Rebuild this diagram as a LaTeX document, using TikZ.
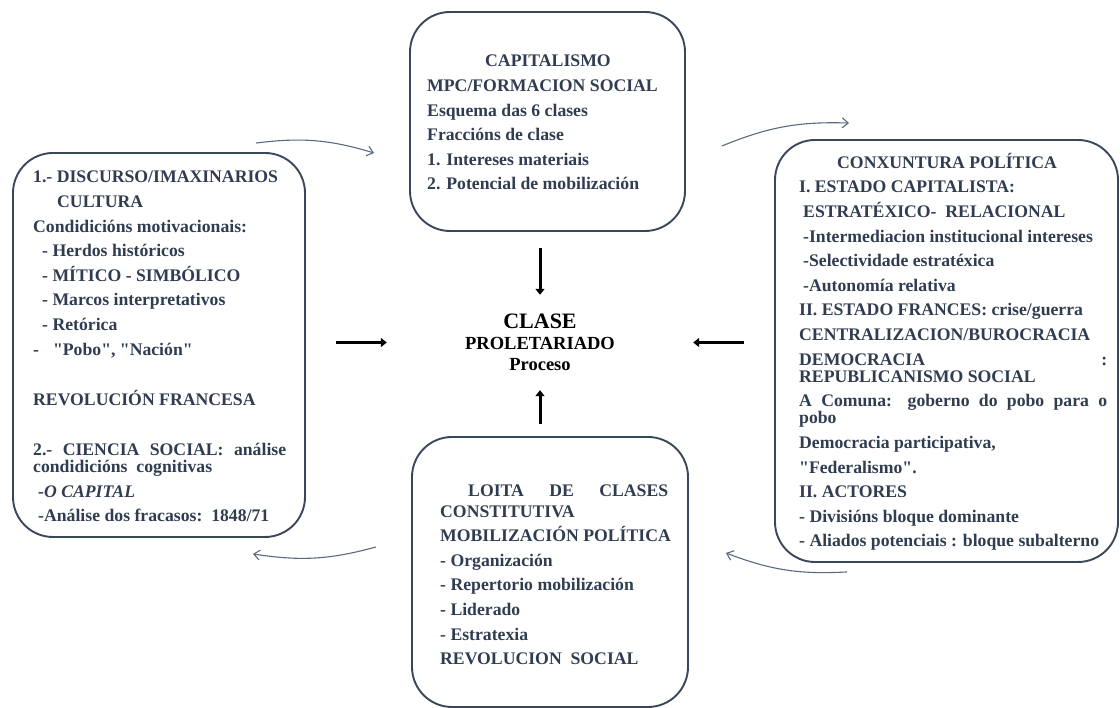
\documentclass[tikz,border=0pt]{standalone}
\usepackage{fontspec}
\setmainfont{Liberation Serif}[Ligatures=TeXOff]
\usetikzlibrary{arrows.meta,calc}
\definecolor{texto}{RGB}{48,60,80}
\definecolor{borde}{RGB}{58,70,90}
\definecolor{fio}{RGB}{92,105,124}

\begin{document}
\begin{tikzpicture}[x=1pt, y=1pt,
  caixa/.style={draw=borde, line width=1.9pt, rounded corners=40pt},
  letras/.style={anchor=north west, inner sep=0pt, align=left, text=texto,
    font=\fontsize{17.7}{24.6}\selectfont\bfseries},
  grosa/.style={line width=3pt, -{Triangle[length=6pt,width=9pt]}},
  volta/.style={draw=fio, line width=1.1pt, -{Straight Barb[length=6pt,width=10pt]}, bend left=12}]

\useasboundingbox (0,0) rectangle (1120,708);

% caixas
\node[caixa, minimum width=275pt, minimum height=219pt] (cap) at (547.5,586.5) {};
\node[caixa, minimum width=292pt, minimum height=384pt] (disc) at (159,363) {};
\node[caixa, minimum width=343pt, minimum height=422pt] (conx) at (946.5,357) {};
\node[caixa, minimum width=276pt, minimum height=270pt] (loita) at (550,136) {};

% textos
\node[letras] (captxt) at (427,653) {\hspace*{58pt}CAPITALISMO\\
MPC/FORMACION SOCIAL\\
Esquema das 6 clases\\
Fraccións de clase\\
1. Intereses materiais\\
2. Potencial de mobilización};

\node[letras] (disctxt) at (33,537) {1.- DISCURSO/IMAXINARIOS\\
\hspace*{24pt}CULTURA\\
Condidicións motivacionais:\\
\hspace*{9pt}- Herdos históricos\\
\hspace*{9pt}- MÍTICO - SIMBÓLICO\\
\hspace*{9pt}- Marcos interpretativos\\
\hspace*{9pt}- Retórica\\
-\hspace*{14pt}"Pobo", "Nación"\\[26pt]
REVOLUCIÓN FRANCESA\\[25pt]
\makebox[253pt][s]{2.- CIENCIA SOCIAL: análise}\\[-7.5pt]
condidicións\ \ cognitivas\\
\hspace*{5pt}\textit{-O CAPITAL}\\
\hspace*{5pt}-Análise dos fracasos:\ \ 1848/71};

\node[letras] (conxtxt) at (799,555) {\hspace*{38pt}CONXUNTURA POLÍTICA\\
I. ESTADO CAPITALISTA:\\
\hspace*{4pt}ESTRATÉXICO-\ \ RELACIONAL\\
\hspace*{4pt}-Intermediacion institucional intereses\\
\hspace*{4pt}-Selectividade estratéxica\\
\hspace*{4pt}-Autonomía relativa\\
II. ESTADO FRANCES: crise/guerra\\
CENTRALIZACION/BUROCRACIA\\
\makebox[308pt][l]{DEMOCRACIA\hfill:}\\[-7.5pt]
REPUBLICANISMO SOCIAL\\
\makebox[308pt][s]{A Comuna: goberno do pobo para o}\\[-7.5pt]
pobo\\
Democracia participativa,\\
"Federalismo".\\
II. ACTORES\\
- Divisións bloque dominante\\
- Aliados potenciais : bloque subalterno};

\node[letras] (loitatxt) at (440,223) {\hspace*{28pt}\makebox[200pt][s]{LOITA DE CLASES}\\[-4.5pt]
CONSTITUTIVA\\
MOBILIZACIÓN POLÍTICA\\
- Organización\\
- Repertorio mobilización\\
- Liderado\\
- Estratexia\\
REVOLUCION\ \ SOCIAL};

\node[minimum width=306pt, minimum height=83pt, inner sep=0pt, align=center,
  font=\fontsize{18.5}{21}\selectfont\bfseries] (clase) at (540,365.5)
  {{\fontsize{22}{24}\selectfont CLASE}\\PROLETARIADO\\Proceso};

% frechas
\draw[grosa, shorten <=16pt, shorten >=6pt] (cap.south -| clase) -- (clase.north);
\draw[grosa, shorten <=12pt, shorten >=6pt] (loita.north -| clase) -- (clase.south);
\draw[grosa, shorten <=30pt] (disc.east |- clase.west) -- (clase.west);
\draw[grosa, shorten <=30pt] (conx.west |- clase.east) -- (clase.east);

\draw[volta] ($(disc.north east)+(-50,9)$) to ($(cap.west)+(-35,-31.5)$);
\draw[volta] ($(cap.east)+(36,-24.5)$) to ($(conx.north west)+(75,16)$);
\draw[volta] ($(conx.south west)+(73,-9)$) to ($(loita.east)+(37,19)$);
\draw[volta] ($(loita.west)+(-35,25)$) to ($(disc.south east)+(-53,-16)$);
\end{tikzpicture}
\end{document}
